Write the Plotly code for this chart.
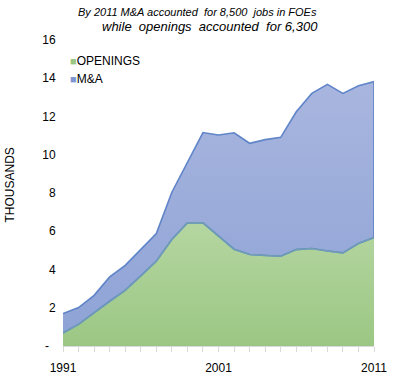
import plotly.graph_objects as go

years = list(range(1991, 2012))
openings = [0.68, 1.13, 1.73, 2.34, 2.91, 3.65, 4.43, 5.57, 6.44, 6.44, 5.74,
            5.06, 4.78, 4.73, 4.69, 5.04, 5.10, 4.97, 4.87, 5.36, 5.67]
total = [1.70, 2.01, 2.65, 3.61, 4.22, 5.05, 5.88, 8.04, 9.62, 11.16, 11.03,
         11.15, 10.60, 10.79, 10.91, 12.25, 13.21, 13.68, 13.21, 13.61, 13.82]
mna = [t - o for t, o in zip(total, openings)]

ytick_vals = [0, 2, 4, 6, 8, 10, 12, 14, 16]
ytick_text = ["-\u00a0\u00a0", "2", "4", "6", "8", "10", "12", "14", "16"]
xtick_text = [str(y) if y in (1991, 2001, 2011) else "" for y in years]

FONT = "Liberation Sans, Arial, sans-serif"

fig = go.Figure()

# OPENINGS area
fig.add_trace(go.Scatter(
    x=years, y=openings, mode="lines", fill="tozeroy",
    line=dict(color="#c9e2b9", width=1.5),
    fillgradient=dict(type="vertical", start=0, stop=7,
                      colorscale=[[0, "#9bc784"], [1, "#b7d7a3"]]),
    showlegend=False, hoverinfo="skip"))

# M&A area stacked on top (polygon between openings and total)
poly_x = years + years[::-1]
poly_y = [o + m for o, m in zip(openings, mna)] + openings[::-1]
fig.add_trace(go.Scatter(
    x=poly_x, y=poly_y, mode="lines", fill="toself",
    line=dict(color="rgba(84,124,196,0.9)", width=1.6),
    fillgradient=dict(type="vertical", start=0, stop=14,
                      colorscale=[[0, "#8da2d5"], [1, "#a9b6df"]]),
    showlegend=False, hoverinfo="skip"))

# teal-ish boundary between series
fig.add_trace(go.Scatter(
    x=years, y=openings, mode="lines",
    line=dict(color="#6f9db4", width=1.5),
    showlegend=False, hoverinfo="skip"))

fig.update_layout(
    width=397, height=379,
    margin=dict(l=63, r=23, t=40, b=33, autoexpand=False),
    paper_bgcolor="white", plot_bgcolor="white",
    font=dict(family=FONT, size=12, color="#000000"),
    xaxis=dict(range=[1991, 2011], tickvals=years, ticktext=xtick_text,
               ticks="outside", ticklen=5, tickcolor="#d9d9d9", tickwidth=1,
               showline=True, linecolor="#d9d9d9", linewidth=1,
               showgrid=False, zeroline=False, ticklabelstandoff=6,
               automargin=False,
               tickfont=dict(size=12, color="#000000")),
    yaxis=dict(range=[0, 16], tickvals=ytick_vals, ticktext=ytick_text,
               ticks="outside", ticklen=4, tickcolor="rgba(0,0,0,0)",
               showline=False, showgrid=False, zeroline=False,
               automargin=False,
               tickfont=dict(size=12, color="#000000")),
    annotations=[
        dict(text="<i>By 2011 M&A accounted  for 8,500  jobs in FOEs</i>",
             xref="paper", yref="paper", x=0.4325, y=1.0915,
             xanchor="center", yanchor="middle", showarrow=False,
             font=dict(size=11, family=FONT, color="#000000")),
        dict(text="<i>while  openings  accounted  for 6,300</i>",
             xref="paper", yref="paper", x=0.474, y=1.0425,
             xanchor="center", yanchor="middle", showarrow=False,
             font=dict(size=13, family=FONT, color="#000000")),
        dict(text="THOUSANDS", xref="paper", yref="paper",
             x=-0.17, y=0.525, textangle=-90,
             xanchor="center", yanchor="middle", showarrow=False,
             font=dict(size=12, family=FONT, color="#000000")),
        dict(text="<span style='color:#9bc784;font-size:11px'>\u25a0</span>OPENINGS",
             xref="paper", yref="paper", x=0.016, y=0.931,
             xanchor="left", yanchor="middle", showarrow=False,
             font=dict(size=12, family=FONT, color="#000000")),
        dict(text="<span style='color:#7f97d0;font-size:11px'>\u25a0</span>M&A",
             xref="paper", yref="paper", x=0.016, y=0.873,
             xanchor="left", yanchor="middle", showarrow=False,
             font=dict(size=12, family=FONT, color="#000000")),
    ],
)

fig.write_html("out.html",
               config={"displayModeBar": False, "staticPlot": True},
               post_script="document.body.style.margin='0';document.body.style.overflow='hidden';")
